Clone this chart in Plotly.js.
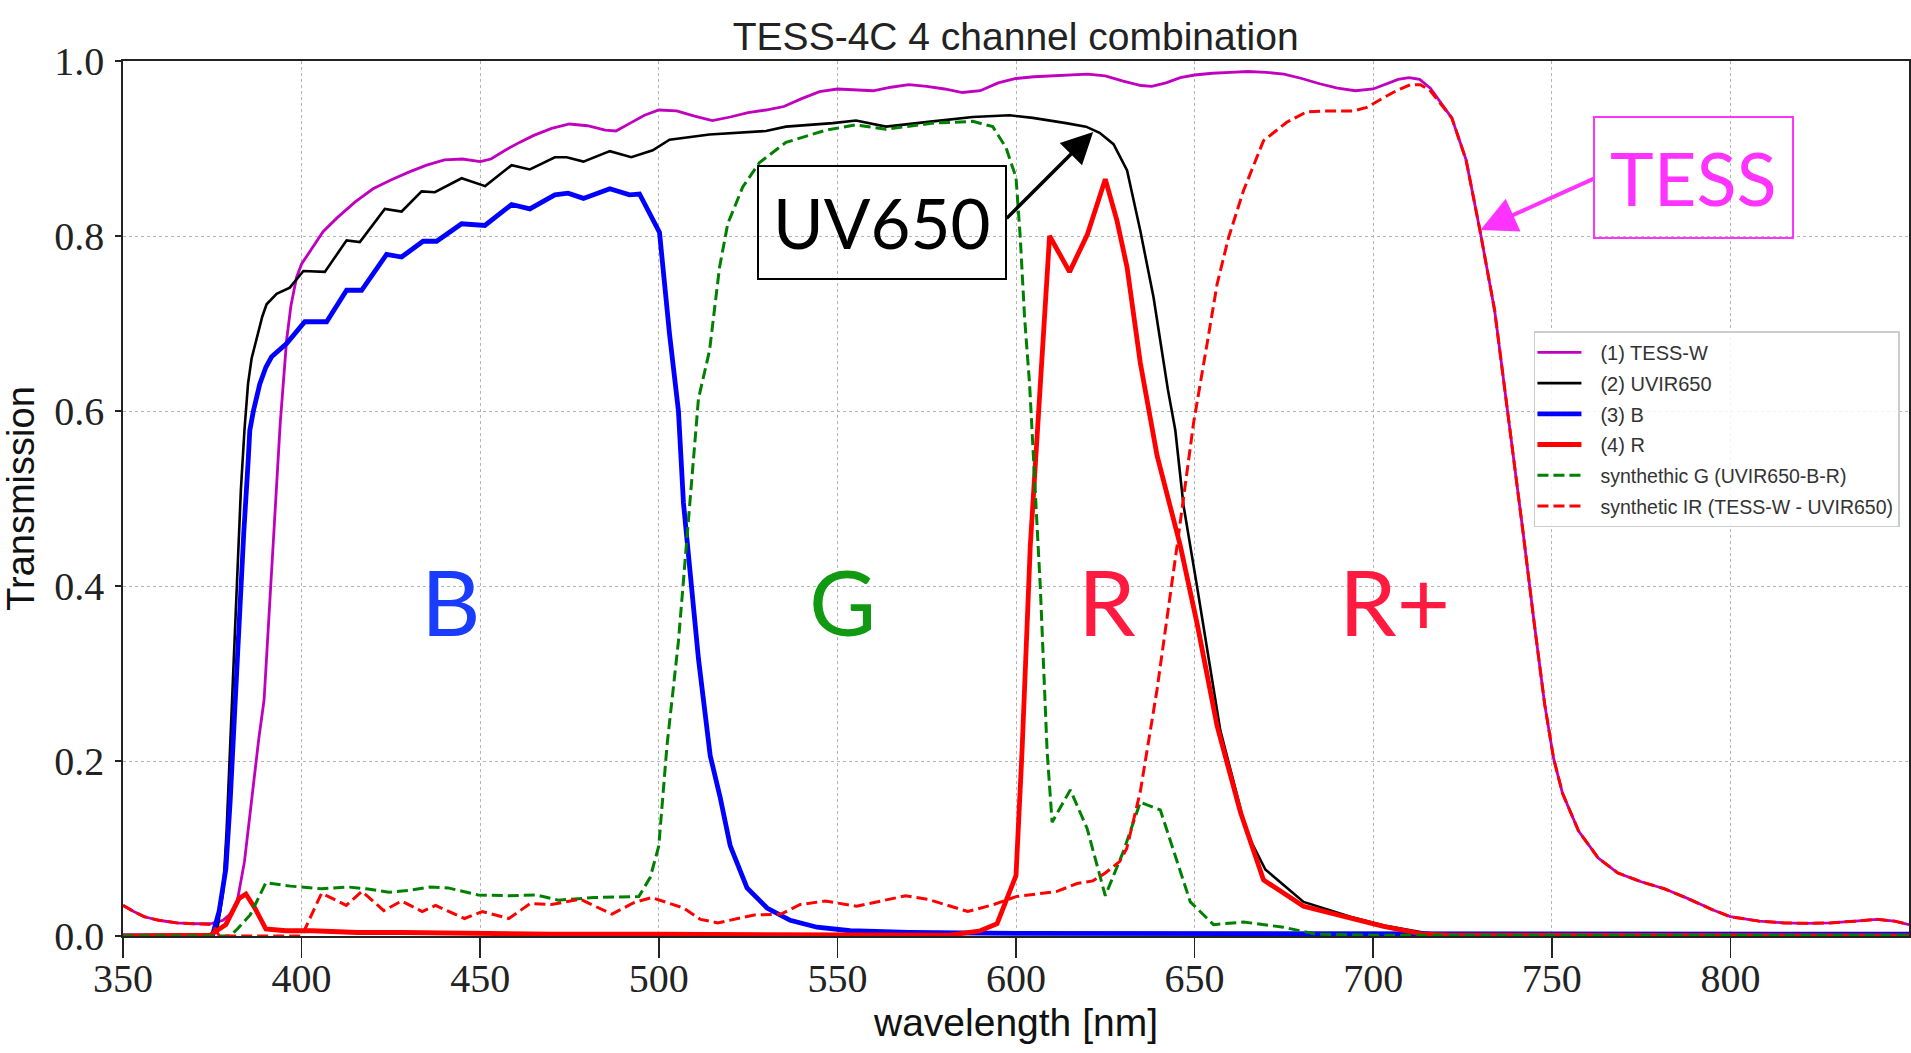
<!DOCTYPE html>
<html>
<head>
<meta charset="utf-8">
<script src="https://cdn.plot.ly/plotly-3.0.1.min.js"></script>
<style>
  html, body { margin: 0; padding: 0; background: #ffffff; }
  #chart { width: 1911px; height: 1053px; }
</style>
</head>
<body>
<div id="chart"></div>
<script>
// ---------------- data (wavelength nm, transmission) ----------------
const seriesNames = [
  "(1) TESS-W",
  "(2) UVIR650",
  "(3) B",
  "(4) R",
  "synthethic G (UVIR650-B-R)",
  "synthetic IR (TESS-W - UVIR650)"
];

const tessX = [350,353,356,360,365,370,375,378,380,382,384,386,388,389.5,391,392.5,394,395.8,397,398.6,400,403,406,410,415,420,425,430,435,440,445,450,453,457,461,465,470,475,480,485,488,492,496,500,505,510,515,520,525,530,535,540,545,550,555,560,565,570,575,580,585,590,595,600,605,610,615,620,625,630,635,638,642,646,650,655,660,665,670,675,680,685,690,695,700,703,707,710,713,716,719,722,726,730,734,738,742,745,748,750.5,753,757.5,763,768.5,775,781.5,788,795,800,808,815,821,828,835,841,846,850];
const tessY = [0.035,0.028,0.022,0.018,0.015,0.014,0.0145,0.018,0.025,0.040,0.085,0.155,0.225,0.27,0.37,0.48,0.585,0.681,0.72,0.753,0.768,0.787,0.805,0.821,0.839,0.854,0.864,0.873,0.881,0.887,0.888,0.885,0.888,0.898,0.907,0.915,0.923,0.928,0.926,0.921,0.920,0.929,0.938,0.944,0.943,0.937,0.932,0.936,0.941,0.944,0.948,0.957,0.965,0.968,0.967,0.966,0.970,0.973,0.971,0.968,0.964,0.966,0.975,0.980,0.982,0.983,0.984,0.985,0.983,0.977,0.972,0.971,0.975,0.981,0.984,0.986,0.987,0.988,0.987,0.985,0.980,0.974,0.969,0.966,0.968,0.973,0.979,0.981,0.979,0.969,0.952,0.935,0.887,0.804,0.715,0.59,0.46,0.36,0.265,0.203,0.163,0.12,0.089,0.072,0.062,0.054,0.043,0.030,0.022,0.017,0.015,0.0145,0.015,0.017,0.019,0.017,0.013];

const uvirX = [350,375,376.5,378,379,380,381,382,383,384,385,386,387.4,389,390.2,393,396.7,400.5,406.5,412.6,416.3,423.3,428,433.6,437.3,444.8,451.4,458.8,463.9,470.9,474.2,478.9,486.3,492.3,498.3,503,514.2,530,535.6,548.7,555.2,563.6,576.7,587.9,598.2,604.7,614,619.6,623.4,627.3,631.1,634.8,638.5,642.5,644.6,646.9,650.7,657.2,664.6,669.8,680.5,693.6,703,714,720,750,850];
const uvirY = [0,0,0.01,0.05,0.12,0.22,0.33,0.43,0.51,0.578,0.631,0.66,0.684,0.708,0.722,0.734,0.741,0.760,0.759,0.795,0.793,0.831,0.828,0.851,0.850,0.866,0.857,0.881,0.876,0.890,0.890,0.885,0.897,0.890,0.898,0.910,0.916,0.920,0.925,0.929,0.932,0.925,0.931,0.936,0.938,0.935,0.929,0.925,0.918,0.905,0.875,0.806,0.73,0.625,0.578,0.492,0.399,0.235,0.118,0.076,0.039,0.022,0.012,0.004,0.002,0.001,0.001];

const bX = [350,375,376.9,378.8,380,381.3,382.5,383.8,385,385.5,386.5,388.3,390,391.6,395.8,400.9,407,412.6,416.8,423.8,428,434,437.8,444.8,451.3,458.8,463.9,470.9,474.6,478.9,486.3,491.8,494.6,500.2,503,505.5,506.9,508.8,511.1,514.4,517.2,520,524.7,530.3,536.8,544.3,553.6,570,600,850];
const bY = [0,0,0.028,0.077,0.154,0.268,0.36,0.46,0.54,0.578,0.60,0.631,0.650,0.662,0.677,0.702,0.702,0.738,0.738,0.779,0.776,0.794,0.794,0.814,0.812,0.836,0.831,0.847,0.849,0.843,0.854,0.847,0.848,0.804,0.688,0.60,0.495,0.416,0.317,0.206,0.158,0.103,0.055,0.032,0.018,0.010,0.006,0.004,0.003,0.002];

const rX = [350,374.4,378.8,382.5,384.4,386.9,390,395.6,403,415.6,428,440.6,470,500,550,581.6,590,594.7,600,601.7,604,606.8,609.4,615,620,625,628.3,631.1,634.8,639.5,646,650.7,656.3,662.8,669.3,680.5,693.6,702.9,714.1,721.5,850];
const rY = [0,0.001,0.013,0.043,0.048,0.032,0.008,0.006,0.006,0.004,0.004,0.003,0.002,0.002,0.001,0.001,0.006,0.014,0.069,0.212,0.446,0.633,0.800,0.759,0.802,0.865,0.817,0.764,0.655,0.549,0.446,0.357,0.240,0.142,0.064,0.034,0.020,0.011,0.002,0.001,0];

const gX = [350,380,382,385.6,390,396.9,405.6,413,418.1,424.4,430,436,441,449.4,458,465.6,471.9,481.9,494.4,497.6,500,502.3,505.5,508.3,511.1,514.2,517,519.3,523.5,528.2,535.6,546.8,555.2,563.6,576.7,587.9,593.5,597.2,600,601.2,602.4,603.8,605,606.8,608.7,610.1,615.2,619.9,625,630.1,634.8,640.4,648.8,655.3,663.7,674.9,684.2,700,850];
const gY = [0,0,0.008,0.024,0.061,0.057,0.054,0.056,0.054,0.050,0.052,0.056,0.055,0.047,0.046,0.047,0.041,0.044,0.045,0.067,0.103,0.218,0.337,0.475,0.614,0.669,0.764,0.814,0.856,0.884,0.907,0.921,0.927,0.922,0.929,0.931,0.925,0.901,0.867,0.798,0.707,0.631,0.539,0.399,0.212,0.130,0.167,0.123,0.046,0.097,0.153,0.144,0.039,0.013,0.016,0.010,0.002,0.001,0.001];

const irX = [350,353,356,360,365,370,375,377,400,400.6,405.6,412.5,416.9,423,428,433.8,437.5,445.6,450.6,458,464,470,478,486.9,493,498,506.9,511.7,516.5,526.7,534.2,539.6,546.6,555.4,562,569.1,575.3,581.6,586.5,593.8,600,611.5,617.1,621.5,625,629,631,634.8,639.5,645.1,649.7,653.5,656.3,659.5,663.7,669.3,675.8,681.4,688,694.5,698.2,702.9,706.5,710.4,713.2,716,719,722,726,730,734,738,742,745,748,750.5,753,757.5,763,768.5,775,781.5,788,795,800,808,815,821,828,835,841,846,850];
const irY = [0.035,0.028,0.022,0.018,0.015,0.014,0.013,0,0,0.005,0.049,0.035,0.051,0.029,0.040,0.028,0.035,0.020,0.028,0.020,0.037,0.036,0.042,0.025,0.038,0.044,0.032,0.019,0.015,0.024,0.025,0.036,0.040,0.034,0.040,0.046,0.042,0.034,0.028,0.036,0.045,0.051,0.060,0.063,0.072,0.085,0.10,0.165,0.282,0.446,0.586,0.677,0.745,0.798,0.852,0.909,0.930,0.942,0.943,0.943,0.947,0.958,0.966,0.973,0.973,0.966,0.951,0.935,0.887,0.804,0.715,0.59,0.46,0.36,0.265,0.203,0.163,0.12,0.089,0.072,0.062,0.054,0.043,0.030,0.022,0.017,0.015,0.0145,0.015,0.017,0.019,0.017,0.013];

const xTicks = [350,400,450,500,550,600,650,700,750,800];
const yTicks = [0.0,0.2,0.4,0.6,0.8,1.0];
const bandLabels = ["B","G","R","R+"];
const calloutLabels = ["UV650","TESS"];

// ---------------- traces ----------------
const legendName = (name, i) => i >= 4 ? '<span style="font-size:19.5px">' + name + '</span>' : name;
const mk = (x, y, i, color, width, dash) => ({
  type: 'scatter', mode: 'lines', x: x, y: y,
  name: legendName(seriesNames[i], i),
  legendgroup: 'g' + i,
  line: { color: color, width: width, dash: dash || 'solid' },
  hoverinfo: 'skip'
});

const data = [
  mk(tessX, tessY, 0, '#bf00bf', 2.8),
  mk(uvirX, uvirY, 1, '#000000', 2.6),
  mk(bX, bY, 2, '#0000ff', 4.8),
  mk(rX, rY, 3, '#ff0000', 4.8),
  mk(gX, gY, 4, '#008000', 3, '11px,5px'),
  mk(irX, irY, 5, '#ff0000', 3, '11px,5px')
];

const bandColors = ['#1a3cff', '#119911', '#ff1a40', '#ff1a40'];
const bandPos = [441.7, 551.5, 625.6, 706];
const annotations = bandLabels.map((t, i) => ({
  x: bandPos[i], y: 0.384, xref: 'x', yref: 'y',
  text: t, showarrow: false, xanchor: 'center', yanchor: 'middle',
  font: { family: 'Lato, "Noto Sans", sans-serif', size: 92, color: bandColors[i] }
}));

// UV650 callout box + arrow
annotations.push({
  x: 1, y: 1, xref: 'paper', yref: 'paper', text: calloutLabels[0], showarrow: false,
  xanchor: 'center', yanchor: 'middle',
  xshift: 881.5 - 1909, yshift: 936 - 222.5 - 875,
  font: { family: 'Lato, "Noto Sans", sans-serif', size: 69, color: '#000000' },
  bordercolor: '#000000', borderwidth: 2, borderpad: 14, bgcolor: 'rgba(255,255,255,0)'
});
annotations.push({
  x: 621.6, y: 0.919, xref: 'x', yref: 'y', text: '', showarrow: true,
  ax: -88, ay: 88, arrowcolor: '#000000', arrowwidth: 3.5, arrowhead: 2, arrowsize: 1.8, standoff: 0
});
// TESS callout box + arrow
annotations.push({
  x: 1, y: 1, xref: 'paper', yref: 'paper', text: calloutLabels[1], showarrow: false,
  xanchor: 'center', yanchor: 'middle',
  xshift: 1693.5 - 1909, yshift: 936 - 177 - 875,
  font: { family: 'Lato, "Noto Sans", sans-serif', size: 74, color: '#ff33ff' },
  bordercolor: '#ff33ff', borderwidth: 2, borderpad: 15, bgcolor: 'rgba(255,255,255,0)'
});
annotations.push({
  x: 730.0, y: 0.807, xref: 'x', yref: 'y', text: '', showarrow: true,
  ax: 115, ay: -52, arrowcolor: '#ff33ff', arrowwidth: 4, arrowhead: 2, arrowsize: 1.8, standoff: 0
});

const axisCommon = {
  showline: true, linecolor: '#222222', linewidth: 1.8, mirror: true,
  showgrid: true, gridcolor: '#b4b4b4', gridwidth: 1, griddash: 'dot',
  zeroline: false, ticks: 'outside', tickcolor: '#222222', tickwidth: 1.5,
  tickfont: { family: '"Liberation Serif", "DejaVu Serif", serif', size: 40, color: '#222222' },
  automargin: false
};

const layout = {
  width: 1911, height: 1053,
  margin: { l: 123, r: 2, t: 61, b: 117, pad: 0 },
  paper_bgcolor: '#ffffff', plot_bgcolor: '#ffffff',
  title: {
    text: 'TESS-4C 4 channel combination',
    font: { family: '"Liberation Sans", Arial, sans-serif', size: 39, color: '#222222' },
    x: 0.5315, xanchor: 'center', y: 1 - 36 / 1053, yanchor: 'middle'
  },
  xaxis: Object.assign({}, axisCommon, {
    range: [350, 850], tickvals: xTicks, ticktext: xTicks.map(String), ticklen: 20,
    ticklabelstandoff: -14,
    title: { text: 'wavelength [nm]', standoff: 9,
      font: { family: '"Liberation Sans", Arial, sans-serif', size: 39, color: '#111111' } }
  }),
  yaxis: Object.assign({}, axisCommon, {
    range: [0, 1], tickvals: yTicks, ticktext: yTicks.map(v => v.toFixed(1)), ticklen: 6,
    ticklabelstandoff: 3,
    title: { text: 'Transmission', standoff: 8,
      font: { family: '"Liberation Sans", Arial, sans-serif', size: 38, color: '#111111' } }
  }),
  legend: {
    x: 0.790, y: 0.691, xanchor: 'left', yanchor: 'top',
    bgcolor: 'rgba(255,255,255,0.85)', bordercolor: '#cccccc', borderwidth: 1.5,
    font: { family: '"Liberation Sans", Arial, sans-serif', size: 20, color: '#333333' },
    tracegroupgap: 1.7, itemwidth: 55
  },
  showlegend: true,
  annotations: annotations
};

Plotly.newPlot('chart', data, layout, { staticPlot: true, displayModeBar: false }).then(gd => {
  // lengthen legend line samples to match the reference handle length
  gd.querySelectorAll('.legend .legendlines path').forEach(p => p.setAttribute('d', 'M2,0h44'));
});
</script>
</body>
</html>
